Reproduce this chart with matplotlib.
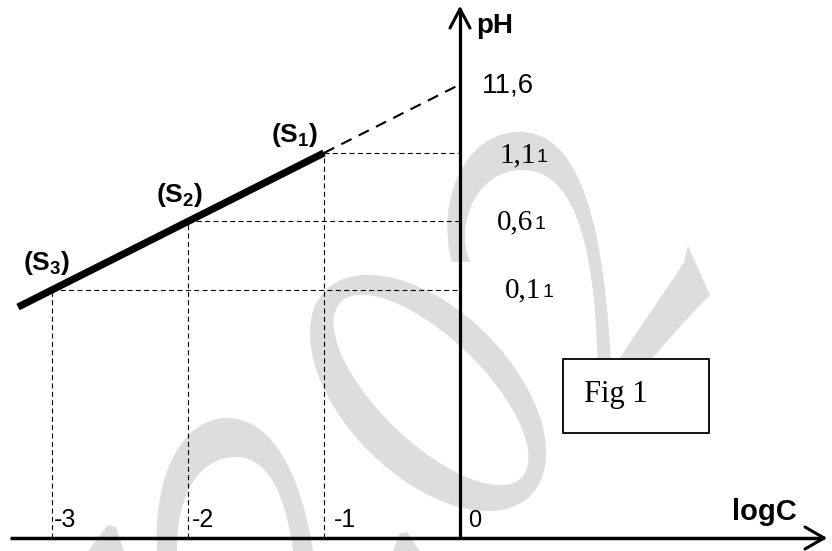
import matplotlib
matplotlib.use("Agg")
import matplotlib.pyplot as plt
from matplotlib.patches import Ellipse, Polygon, Rectangle, PathPatch
from matplotlib.path import Path

plt.rcParams['mathtext.fontset'] = 'custom'
plt.rcParams['mathtext.rm'] = 'Liberation Sans'
plt.rcParams['mathtext.bf'] = 'Liberation Sans:bold'

# ---------------- data ----------------
logC_ticks = [-3, -2, -1, 0]
logC_labels = ['-3', '-2', '-1', '0']
sol_logC = [-3, -2, -1]
sol_pH = [0.11, 0.61, 1.11]
sol_names = [r'$\mathbf{(S_3)}$', r'$\mathbf{(S_2)}$', r'$\mathbf{(S_1)}$']
pH_labels_main = ['0,1', '0,6', '1,1']
pH_labels_last = ['1', '1', '1']
line_logC = [-3.25, -1.0]
line_pH = [-0.015, 1.11]
ext_logC = [-1.0, 0.0]
ext_pH = [1.11, 1.61]
ext_label = '11,6'

W, H = 832, 551
X0, SX = 460.0, 136.0   # pixel of logC=0, pixels per unit
Y0, SY = 305.0, 137.0   # pixel of pH=0, pixels per unit


def d(px, py):
    return (px - X0) / SX, (Y0 - py) / SY


fig = plt.figure(figsize=(W / 100, H / 100), dpi=100)

# ---- watermark (decoration, pixel coordinates) ----
bg = fig.add_axes([0, 0, 1, 1])
bg.set_xlim(0, W)
bg.set_ylim(H, 0)
bg.axis('off')
wm = '#dddddd'


def bez_patch(start, segs):
    verts = [start]
    codes = [Path.MOVETO]
    for s in segs:
        if len(s) == 1:
            verts += s
            codes += [Path.LINETO]
        else:
            verts += s
            codes += [Path.CURVE4] * 3
    verts.append(start)
    codes.append(Path.CLOSEPOLY)
    return PathPatch(Path(verts, codes), facecolor=wm, edgecolor='none')


bg.add_patch(Ellipse((428, 393), 290, 166, angle=45, facecolor=wm, edgecolor='none'))
bg.add_patch(Ellipse((431, 390), 252, 104, angle=44, facecolor='white', edgecolor='none'))

# hook of the "2"
bg.add_patch(bez_patch((452, 262), [
    [(436, 205), (462, 132), (520, 132)],
    [(582, 132), (606, 230), (612, 385)],
    [(598, 385)],
    [(597, 255), (578, 170), (522, 170)],
    [(478, 170), (454, 222), (470, 262)],
]))
# diagonal stroke
bg.add_patch(bez_patch((603, 385), [
    [(630, 340), (660, 300), (684, 262)],
    [(686, 256), (686, 250), (688, 246)],
    [(710, 295)],
    [(680, 325), (655, 355), (630, 385)],
]))
# bottom-left arc
bg.add_patch(bez_patch((157, 551), [
    [(153, 470), (185, 418), (227, 418)],
    [(275, 418), (302, 480), (313, 551)],
    [(293, 551)],
    [(286, 495), (268, 457), (236, 457)],
    [(196, 457), (176, 500), (177, 551)],
]))
bg.add_patch(Polygon([(108, 525), (116, 527), (124, 551), (88, 551)], closed=True,
                     facecolor=wm, edgecolor='none'))
bg.add_patch(Polygon([(400, 533), (407, 532), (420, 551), (393, 551)], closed=True,
                     facecolor=wm, edgecolor='none'))

# ---- main diagram ----
ax = fig.add_axes([0, 0, 1, 1])
ax.patch.set_alpha(0)
ax.set_xlim(d(0, 0)[0], d(W, 0)[0])
ax.set_ylim(d(0, H)[1], d(0, 0)[1])
ax.axis('off')

x_axis_pH = d(0, 538)[1]
top_pH = d(0, 9)[1]

# guide lines
for lc, ph in zip(sol_logC, sol_pH):
    ax.plot([lc, lc], [x_axis_pH, ph], color='black', lw=0.8, dashes=(4.5, 3), zorder=2)
    ax.plot([lc, 0], [ph, ph], color='black', lw=0.8, dashes=(4.5, 3), zorder=2)

# extension dashed line
ax.plot(ext_logC, ext_pH, color='black', lw=1.5, dashes=(5.5, 3.8), zorder=3)
# thick line
ax.plot(line_logC, line_pH, color='black', lw=5.2, solid_capstyle='butt', zorder=4)

# axes
xl, _ = d(10, 0)
xr, _ = d(824, 0)
ax.plot([xl, xr], [x_axis_pH, x_axis_pH], color='black', lw=2.5, solid_capstyle='butt', zorder=5)
ax.plot([0, 0], [x_axis_pH, top_pH], color='black', lw=2.3, solid_capstyle='butt', zorder=5)
# arrowheads
for (ax_px, ay_px) in [(805, 527), (805, 549)]:
    p = d(ax_px, ay_px)
    ax.plot([p[0], xr], [p[1], x_axis_pH], color='black', lw=2.2, solid_capstyle='round', zorder=5)
for (ax_px, ay_px) in [(450, 28), (470, 28)]:
    p = d(ax_px, ay_px)
    ax.plot([p[0], 0], [p[1], top_pH], color='black', lw=2.2, solid_capstyle='round', zorder=5)

sans = 'Liberation Sans'
serif = 'Liberation Serif'

# axis names
ax.text(*d(476, 33), 'pH', fontfamily=sans, fontweight='bold', fontsize=20, ha='left', va='baseline')
ax.text(*d(732, 520), 'logC', fontfamily=sans, fontweight='bold', fontsize=21, ha='left', va='baseline')

# x tick labels
tick_px = {-3: 54, -2: 192, -1: 334, 0: 468}
for t, lab in zip(logC_ticks, logC_labels):
    fs = 17 if t == 0 else 18
    ax.text(*d(tick_px[t], 527), lab, fontfamily=sans, fontsize=fs, ha='left', va='baseline')

# pH labels
main_px = [(505, 297), (497, 229), (499, 162)]
last_px = [543, 535, 536]
for (mx, my), lx, m, l in zip(main_px, last_px, pH_labels_main, pH_labels_last):
    ax.text(*d(mx, my), m, fontfamily=serif, fontsize=21, ha='left', va='baseline')
    ax.text(*d(lx, my), l, fontfamily=sans, fontsize=14, ha='left', va='baseline')
ax.text(*d(482, 92), ext_label, fontfamily=sans, fontsize=20, ha='left', va='baseline')

# solution labels
name_px = [(23, 270), (156, 202), (271, 142)]
for (nx, ny), nm in zip(name_px, sol_names):
    ax.text(*d(nx, ny), nm, fontsize=19, ha='left', va='baseline')

# Fig 1 box
bx0, by0 = d(563, 433)
bx1, by1 = d(709, 359)
ax.add_patch(Rectangle((bx0, by0), bx1 - bx0, by1 - by0, facecolor='white',
                       edgecolor='black', lw=1.3, zorder=6))
ax.text(*d(584, 402), 'Fig 1', fontfamily=serif, fontsize=22, ha='left', va='baseline', zorder=7)

fig.savefig('out.png', dpi=100)
